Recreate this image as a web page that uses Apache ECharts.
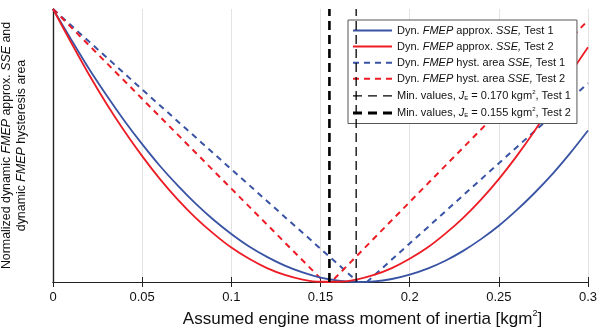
<!DOCTYPE html>
<html>
<head>
<meta charset="utf-8">
<script src="https://cdn.jsdelivr.net/npm/echarts@6/dist/echarts.min.js"></script>
<style>
html,body{margin:0;padding:0;background:#fff;}
#c{width:597px;height:331px;}
</style>
</head>
<body>
<div id="c"></div>
<script>
// ---- data ----
var xs = [0,0.01,0.02,0.03,0.04,0.05,0.06,0.07,0.08,0.09,0.10,0.11,0.12,0.13,0.14,0.15,0.16,0.17,0.18,0.19,0.20,0.21,0.22,0.23,0.24,0.25,0.26,0.27,0.28,0.29,0.30];
var approxTest1 = [1.00,0.890,0.783,0.684,0.591,0.505,0.425,0.353,0.287,0.228,0.176,0.130,0.092,0.060,0.035,0.016,0.005,0.000,0.002,0.011,0.027,0.049,0.078,0.114,0.157,0.206,0.263,0.326,0.395,0.472,0.555];
var approxTest2 = [1.00,0.879,0.762,0.653,0.553,0.461,0.377,0.302,0.235,0.177,0.126,0.085,0.051,0.026,0.009,0.001,0.001,0.009,0.026,0.051,0.085,0.126,0.177,0.235,0.302,0.377,0.461,0.553,0.653,0.762,0.860];
var hystX1 = [0,0.05,0.10,0.15,0.171,0.176,0.20,0.25,0.30];
var hystTest1 = [1.00,0.705,0.413,0.122,0.0,0.0,0.141,0.435,0.728];
var hystX2 = [0,0.05,0.10,0.152,0.156,0.20,0.25,0.30];
var hystTest2 = [1.00,0.671,0.342,0.0,0.0,0.293,0.625,0.958];
var minJ = [0.170, 0.155];
var xTickLabels = ['0','0.05','0.1','0.15','0.2','0.25','0.3'];
var names = [
  'Dyn. FMEP approx. SSE, Test 1',
  'Dyn. FMEP approx. SSE, Test 2',
  'Dyn. FMEP hyst. area SSE, Test 1',
  'Dyn. FMEP hyst. area SSE, Test 2',
  'Min. values, JE = 0.170 kgm2, Test 1',
  'Min. values, JE = 0.155 kgm2, Test 2'
];
var richNames = [
  '{n|Dyn. }{i|FMEP}{n| approx. }{i|SSE,}{n| Test 1}',
  '{n|Dyn. }{i|FMEP}{n| approx. }{i|SSE,}{n| Test 2}',
  '{n|Dyn. }{i|FMEP}{n| hyst. area }{i|SSE,}{n| Test 1}',
  '{n|Dyn. }{i|FMEP}{n| hyst. area }{i|SSE,}{n| Test 2}',
  '{n|Min. values, }{i|J}{sub|E}{n| = 0.170 kgm}{sup|2}{n|, Test 1}',
  '{n|Min. values, }{i|J}{sub|E}{n| = 0.155 kgm}{sup|2}{n|, Test 2}'
];

function pairs(x, y){ return x.map(function(v,i){ return [v, y[i]]; }); }

var BLUE = '#3953a4', RED = '#ed1c24';
var FONT = 'Liberation Sans';
var ICON_SOLID = 'path://M0,0h39v2h-39z';
var ICON_DASH = 'path://M0,0h6v2h-6z M11,0h6v2h-6z M22,0h6v2h-6z M33,0h6v2h-6z';
var ICON_DASH_THIN = 'path://M0,0h9v1.3h-9z M15,0h9v1.3h-9z M30,0h9v1.3h-9z';
var ICON_DASH_THICK = 'path://M0,0h9v2.8h-9z M15,0h9v2.8h-9z M30,0h9v2.8h-9z';
var icons = [ICON_SOLID, ICON_SOLID, ICON_DASH, ICON_DASH, ICON_DASH_THIN, ICON_DASH_THICK];

var rich = {
  n:{fontFamily:FONT,fontSize:11,color:'#111'},
  i:{fontFamily:FONT,fontSize:11,color:'#111',fontStyle:'italic'},
  sub:{fontFamily:FONT,fontSize:6,color:'#111',padding:[5,0,0,0]},
  sup:{fontFamily:FONT,fontSize:6,color:'#111',padding:[0,0,7,0]}
};
var richAxis = {
  n:{fontFamily:FONT,fontSize:12.4,color:'#111',lineHeight:15},
  i:{fontFamily:FONT,fontSize:12.4,color:'#111',fontStyle:'italic',lineHeight:15}
};
var richX = {
  n:{fontFamily:FONT,fontSize:17,color:'#111'},
  sup:{fontFamily:FONT,fontSize:9,color:'#111',padding:[0,0,11,0]}
};

var chart = echarts.init(document.getElementById('c'), null, {renderer:'canvas'});
var option = {
  animation:false,
  backgroundColor:'#fff',
  grid:{left:53,right:9,top:9,bottom:49,containLabel:false,outerBoundsMode:'none'},
  xAxis:[{
    type:'value', min:0, max:0.3, interval:0.05,
    axisLine:{lineStyle:{color:'#222',width:1.2}},
    axisTick:{inside:true,length:5,lineStyle:{color:'#222'}},
    axisLabel:{fontFamily:FONT,fontSize:13,color:'#111',margin:9,
      formatter:function(v){ return xTickLabels[Math.round(v/0.05)]; }},
    splitLine:{show:true,lineStyle:{color:'#e3e3e3',width:1}},
    name:'{n|Assumed engine mass moment of inertia [kgm}{sup|2}{n|]}',
    nameLocation:'middle', nameGap:27,
    nameTextStyle:{rich:richX,padding:[0,0,0,84]}
  },{
    type:'value', min:0, max:0.3, interval:0.05, position:'top',
    axisLine:{lineStyle:{color:'#222',width:1.2}},
    axisTick:{inside:true,length:5,lineStyle:{color:'#222'}},
    axisLabel:{show:false}, splitLine:{show:false}
  }],
  yAxis:[{
    type:'value', min:0, max:1,
    axisLine:{show:true,lineStyle:{color:'#222',width:1.2}},
    axisTick:{show:false}, axisLabel:{show:false}, splitLine:{show:false},
    name:'{n|Normalized dynamic }{i|FMEP}{n| approx. }{i|SSE}{n| and}\n{n|dynamic }{i|FMEP}{n| hysteresis area}',
    nameLocation:'middle', nameGap:18, nameRotate:90,
    nameTextStyle:{rich:richAxis,padding:[0,0,6,0]}
  },{
    type:'value', min:0, max:1, position:'right',
    axisLine:{show:true,lineStyle:{color:'#222',width:1.2}},
    axisTick:{show:false}, axisLabel:{show:false}, splitLine:{show:false}
  }],
  legend:{
    orient:'vertical', left:348, top:20,
    padding:[5,6,5,5],
    backgroundColor:'#fff', borderColor:'#555', borderWidth:1,
    itemWidth:39, itemHeight:14, itemGap:5.1,
    textStyle:{rich:rich},
    formatter:function(name){ return richNames[names.indexOf(name)]; },
    data:names.map(function(n,i){ return {name:n, icon:icons[i]}; })
  },
  series:[
    {name:names[0],type:'line',showSymbol:false,symbol:'none',data:pairs(xs,approxTest1),
      lineStyle:{color:BLUE,width:1.8},itemStyle:{color:BLUE},smooth:0.3,z:3},
    {name:names[1],type:'line',showSymbol:false,symbol:'none',data:pairs(xs,approxTest2),
      lineStyle:{color:RED,width:1.8},itemStyle:{color:RED},smooth:0.3,z:3},
    {name:names[2],type:'line',showSymbol:false,symbol:'none',data:pairs(hystX1,hystTest1),
      lineStyle:{color:BLUE,width:2,type:[6,5]},itemStyle:{color:BLUE},z:2},
    {name:names[3],type:'line',showSymbol:false,symbol:'none',data:pairs(hystX2,hystTest2),
      lineStyle:{color:RED,width:2,type:[6,5]},itemStyle:{color:RED},z:2},
    {name:names[4],type:'line',showSymbol:false,symbol:'none',data:[[minJ[0],0],[minJ[0],1]],
      lineStyle:{color:'#000',width:1.3,type:[9,5]},itemStyle:{color:'#000'},z:4},
    {name:names[5],type:'line',showSymbol:false,symbol:'none',data:[[minJ[1],0],[minJ[1],1]],
      lineStyle:{color:'#000',width:2.6,type:[9,5]},itemStyle:{color:'#000'},z:4}
  ]
};
chart.setOption(option);
</script>
</body>
</html>
